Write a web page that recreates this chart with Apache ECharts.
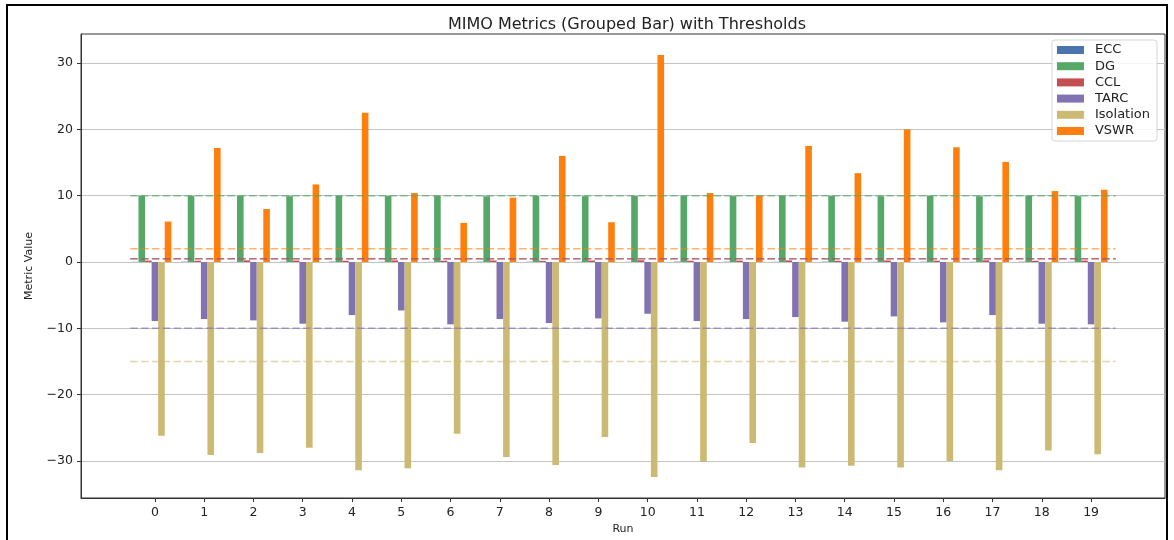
<!DOCTYPE html>
<html>
<head>
<meta charset="utf-8">
<script src="https://cdn.jsdelivr.net/npm/echarts@6/dist/echarts.min.js"></script>
<style>
  html, body { margin: 0; padding: 0; background: #fff; }
  #chart { width: 1174px; height: 540px; }
</style>
</head>
<body>
<div id="chart"></div>
<script>
// Per-run MIMO metrics
const runs = [0, 1, 2, 3, 4, 5, 6, 7, 8, 9, 10, 11, 12, 13, 14, 15, 16, 17, 18, 19];
const ecc = [0.03, 0.05, 0.02, 0.04, 0.06, 0.03, 0.02, 0.05, 0.04, 0.03, 0.02, 0.06, 0.04, 0.03, 0.05, 0.02, 0.04, 0.03, 0.05, 0.04];
const dg = [9.98, 9.95, 9.97, 9.93, 9.96, 9.94, 9.97, 9.92, 9.95, 9.93, 9.95, 9.96, 9.94, 9.97, 9.95, 9.93, 9.95, 9.92, 9.96, 9.93];
const ccl = [0.21, 0.18, 0.25, 0.22, 0.19, 0.24, 0.2, 0.23, 0.17, 0.22, 0.26, 0.19, 0.21, 0.24, 0.18, 0.23, 0.2, 0.25, 0.19, 0.22];
const tarc = [-8.9, -8.6, -8.8, -9.3, -8.0, -7.3, -9.4, -8.6, -9.2, -8.5, -7.8, -8.9, -8.6, -8.3, -9.0, -8.2, -9.1, -8.0, -9.3, -9.4];
const isolation = [-26.2, -29.1, -28.8, -28.0, -31.4, -31.1, -25.9, -29.4, -30.6, -26.4, -32.4, -30.1, -27.3, -31.0, -30.7, -31.0, -30.0, -31.4, -28.4, -29.0];
const vswr = [6.1, 17.2, 8.0, 11.7, 22.5, 10.4, 5.9, 9.7, 16.0, 6.0, 31.2, 10.4, 10.0, 17.5, 13.4, 20.0, 17.3, 15.1, 10.7, 10.9];

const metricNames = ['ECC', 'DG', 'CCL', 'TARC', 'Isolation', 'VSWR'];
const metricValues = [ecc, dg, ccl, tarc, isolation, vswr];
const metricColors = ['#4c72b0', '#55a868', '#c44e52', '#8172b2', '#ccb974', '#ff7f0e'];
const thresholds = [0.5, 10, 0.5, -10, -15, 2];
const thresholdOpacity = [0.5, 0.65, 0.7, 0.65, 0.6, 0.6];

const yTicks = [-30, -20, -10, 0, 10, 20, 30];

// grouped layout: each metric shifted by a fraction of a run slot
const groupWidth = 0.8;
const slot = groupWidth / metricNames.length;

const barSeries = metricNames.map((name, j) => ({
  name: name,
  type: 'bar',
  barWidth: 6.6,
  barGap: '-100%',
  itemStyle: { color: metricColors[j] },
  emphasis: { disabled: true },
  data: runs.map((r, i) => [r + (j - metricNames.length / 2) * slot, metricValues[j][i]])
}));

const thresholdSeries = metricNames.map((name, j) => ({
  name: name + ' threshold',
  type: 'line',
  symbol: 'none',
  silent: true,
  z: 3,
  lineStyle: { color: metricColors[j], width: 1.5, type: [7.5, 3.3], opacity: thresholdOpacity[j] },
  data: [[runs[0] - 0.5, thresholds[j]], [runs[runs.length - 1] + 0.5, thresholds[j]]]
}));

const font = 'DejaVu Sans';
const chart = echarts.init(document.getElementById('chart'), null, { renderer: 'canvas' });
chart.setOption({
  backgroundColor: '#fff',
  animation: false,
  textStyle: { fontFamily: font },
  title: {
    text: 'MIMO Metrics (Grouped Bar) with Thresholds',
    left: 622, top: 12, textAlign: 'center',
    textStyle: { fontFamily: font, fontSize: 16, fontWeight: 'normal', color: '#222' }
  },
  legend: {
    data: metricNames,
    orient: 'vertical',
    right: 17, top: 40,
    icon: 'rect',
    itemWidth: 27, itemHeight: 8,
    itemGap: 2.2,
    padding: [3, 7, 3, 5],
    backgroundColor: 'rgba(255,255,255,0.85)',
    borderColor: '#d5d5d5', borderWidth: 1, borderRadius: 3,
    textStyle: { fontFamily: font, fontSize: 13, lineHeight: 14, color: '#222', padding: [0, 0, 0, 6] }
  },
  grid: {
    left: 81, right: 9, top: 34, bottom: 40,
    show: true, borderColor: '#333', borderWidth: 1, backgroundColor: 'transparent'
  },
  xAxis: {
    type: 'value',
    min: -1.5, max: 20.5,
    name: 'Run', nameLocation: 'middle', nameGap: 26,
    nameTextStyle: { fontFamily: font, fontSize: 11, color: '#222' },
    axisLine: { show: true, onZero: false, lineStyle: { color: '#333' } },
    axisTick: { show: true, customValues: runs, length: 4, lineStyle: { color: '#333' } },
    axisLabel: { customValues: runs, fontFamily: font, fontSize: 12.5, color: '#222', margin: 8 },
    splitLine: { show: false }
  },
  yAxis: {
    type: 'value',
    min: -35.58, max: 34.38,
    name: 'Metric Value', nameLocation: 'middle', nameGap: 46, nameRotate: 90,
    nameTextStyle: { fontFamily: font, fontSize: 11, color: '#222' },
    axisLine: { show: true, onZero: false, lineStyle: { color: '#333' } },
    axisTick: { show: true, customValues: yTicks, length: 4, lineStyle: { color: '#333' } },
    axisLabel: {
      customValues: yTicks, fontFamily: font, fontSize: 12.5, color: '#222', margin: 8,
      formatter: v => (v < 0 ? '\u2212' + Math.abs(v) : String(v))
    },
    splitLine: { show: true, lineStyle: { color: '#c4c4c4', width: 1 } }
  },
  graphic: [{
    type: 'rect',
    silent: true,
    shape: { x: 7, y: 5, width: 1160, height: 545 },
    style: { fill: 'none', stroke: '#000', lineWidth: 2 }
  }],
  series: barSeries.concat(thresholdSeries)
});
</script>
</body>
</html>
